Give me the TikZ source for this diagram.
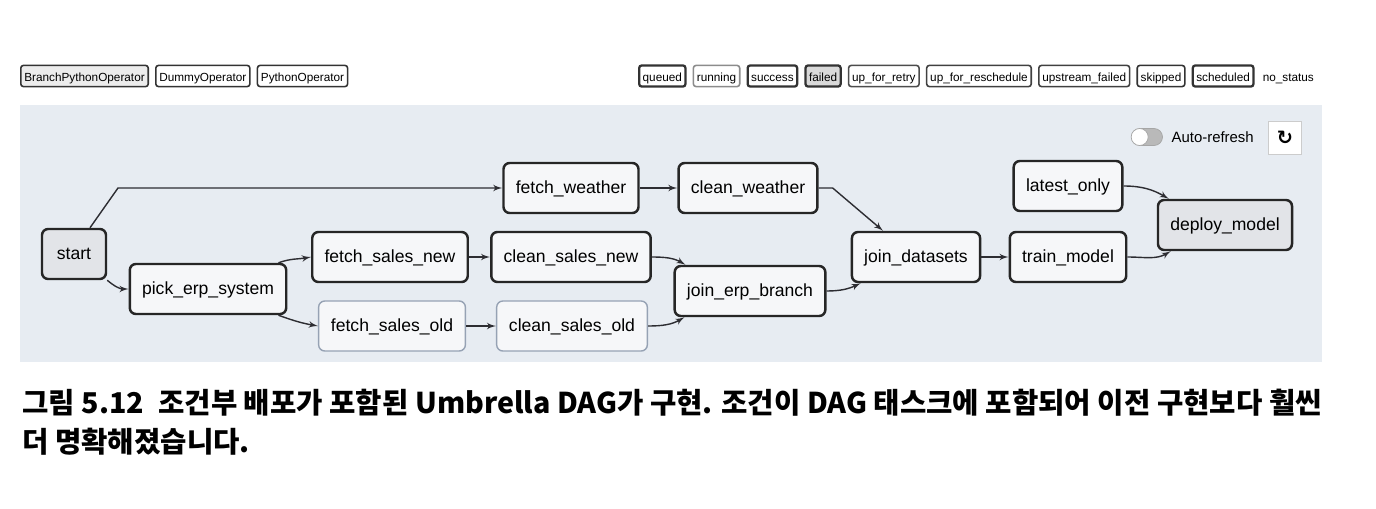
\documentclass[tikz,border=0pt]{standalone}
\usepackage{fontspec}
\setmainfont{Liberation Sans}
\newfontfamily\krfont{Noto Sans CJK KR}
\newfontfamily\symfont{DejaVu Sans}
\usetikzlibrary{shapes,arrows,positioning,calc}
\definecolor{panelbg}{RGB}{231,236,242}
\definecolor{taskfill}{RGB}{246,247,249}
\definecolor{dummyfill}{RGB}{226,228,232}
\definecolor{edgecol}{RGB}{45,45,50}
\definecolor{skipline}{RGB}{150,162,180}
\tikzset{
task/.style = {draw=black!85, fill=taskfill, rectangle, rounded corners=3.5pt, line width=1.4pt, minimum height=1cm, inner xsep=7pt, text height=1.5ex, text depth=0.4ex, font=\fontsize{10}{12}\selectfont},
dummy/.style = {task, fill=dummyfill},
skiptask/.style = {task, draw=skipline, line width=0.8pt},
tmp/.style = {coordinate},
legend/.style = {draw=black!80, fill=white, rectangle, rounded corners=1.5pt, line width=0.9pt, minimum height=0.34cm, inner xsep=2pt, inner ysep=1pt, text height=1.5ex, text depth=0.4ex, font=\fontsize{6.7}{8}\selectfont},
link/.style = {->, draw=edgecol, line width=0.8pt}
}

\begin{document}
\begin{tikzpicture}[auto, node distance=2.5cm, >=latex']
\useasboundingbox (0,0) rectangle (27.52,-10.16);
\fill[panelbg] (0.4,-2.1) rectangle (26.44,-7.24);

% operator legend
\node[legend, fill=gray!15, anchor=west] (opbranch) at (0.4,-1.52) {BranchPythonOperator};
\node[legend, right=0.12cm of opbranch] (opdummy) {DummyOperator};
\node[legend, right=0.12cm of opdummy] (oppython) {PythonOperator};

% status legend
\node[legend, line width=1.3pt, anchor=west] (stqueued) at (12.76,-1.52) {queued};
\node[legend, draw=black!45, right=0.12cm of stqueued] (strunning) {running};
\node[legend, line width=1.3pt, right=0.12cm of strunning] (stsuccess) {success};
\node[legend, line width=1.3pt, fill=gray!30, right=0.12cm of stsuccess] (stfailed) {failed};
\node[legend, draw=black!70, right=0.12cm of stfailed] (stretry) {up\_for\_retry};
\node[legend, draw=black!75, right=0.12cm of stretry] (stresched) {up\_for\_reschedule};
\node[legend, draw=black!75, right=0.12cm of stresched] (stupfail) {upstream\_failed};
\node[legend, right=0.12cm of stupfail] (stskipped) {skipped};
\node[legend, line width=1.3pt, right=0.12cm of stskipped] (stsched) {scheduled};
\node[right=0.04cm of stsched, text height=1.5ex, text depth=0.4ex, font=\fontsize{6.7}{8}\selectfont] (stnone) {no\_status};

% auto refresh
\node[draw=gray!70, fill=gray!55, rounded corners=0.17cm, minimum width=0.62cm, minimum height=0.34cm, inner sep=0pt] (toggle) at (22.94,-2.74) {};
\node[circle, draw=gray!70, fill=white, minimum size=0.34cm, inner sep=0pt, xshift=0.17cm] (knob) at (toggle.west) {};
\node[right=0.05cm of toggle, font=\fontsize{8.5}{10}\selectfont] (autoref) {Auto-refresh};
\node[draw=gray!40, fill=white, minimum size=0.66cm, inner sep=0pt, font=\symfont\bfseries\fontsize{11}{12}\selectfont] (reload) at (25.7,-2.76) {↻};

% tasks
\node[dummy, minimum width=1.28cm] (start) at (1.48,-5.08) {start};
\node[task, right of=start, node distance=2.68cm, yshift=-0.7cm] (pick) {pick\_erp\_system};
\node[task, right of=pick, node distance=3.64cm, yshift=0.64cm] (fsn) {fetch\_sales\_new};
\node[skiptask, right of=pick, node distance=3.68cm, yshift=-0.74cm] (fso) {fetch\_sales\_old};
\node[task, right of=fsn, node distance=3.62cm] (csn) {clean\_sales\_new};
\node[skiptask, right of=fso, node distance=3.6cm] (cso) {clean\_sales\_old};
\node[task, above of=csn, node distance=1.38cm] (fw) {fetch\_weather};
\node[task, right of=fw, node distance=3.54cm] (cw) {clean\_weather};
\node[task, right of=csn, node distance=3.58cm, yshift=-0.68cm] (jeb) {join\_erp\_branch};
\node[task, right of=jeb, node distance=3.32cm, yshift=0.68cm] (jd) {join\_datasets};
\node[task, right of=jd, node distance=3.04cm] (tm) {train\_model};
\node[task, above of=tm, node distance=1.42cm] (lo) {latest\_only};
\node[dummy, right of=tm, node distance=3.14cm, yshift=0.64cm] (dm) {deploy\_model};
\node[tmp, right of=start, node distance=0.88cm] (tmp1) {};

% edges
\draw[link] ([xshift=0.32cm]start.north) -- (tmp1 |- fw.west) -- (fw.west);
\draw[link] (start.south east) to[out=-40,in=180] (pick.west);
\draw[link] ([xshift=-0.18cm]pick.north east) to[out=20,in=190] (fsn.west);
\draw[link] ([xshift=-0.18cm]pick.south east) to[out=-20,in=170] (fso.west);
\draw[link] (fsn.east) -- (csn.west);
\draw[link] (fso.east) -- (cso.west);
\draw[link] (fw.east) -- (cw.west);
\draw[link] (cw.east) -- ++(0.28,0) -- ([xshift=-0.66cm]jd.north);
\draw[link] (csn.east) to[out=0,in=150] ([xshift=0.24cm]jeb.north west);
\draw[link] (cso.east) to[out=0,in=210] ([xshift=0.22cm]jeb.south west);
\draw[link] (jeb.east) to[out=0,in=205] ([xshift=0.2cm]jd.south west);
\draw[link] (jd.east) -- (tm.west);
\draw[link] (lo.east) to[out=0,in=150] ([xshift=0.24cm]dm.north west);
\draw[link] (tm.east) to[out=0,in=210] ([xshift=0.28cm]dm.south west);

% caption
\node[anchor=north west, align=left, inner sep=0pt, font=\krfont\bfseries\fontsize{16.3}{22}\selectfont] (caption) at (0.44,-7.78) {그림 5.12\enspace 조건부 배포가 포함된 Umbrella DAG가 구현. 조건이 DAG 태스크에 포함되어 이전 구현보다 훨씬\\더 명확해졌습니다.};
\end{tikzpicture}
\end{document}
